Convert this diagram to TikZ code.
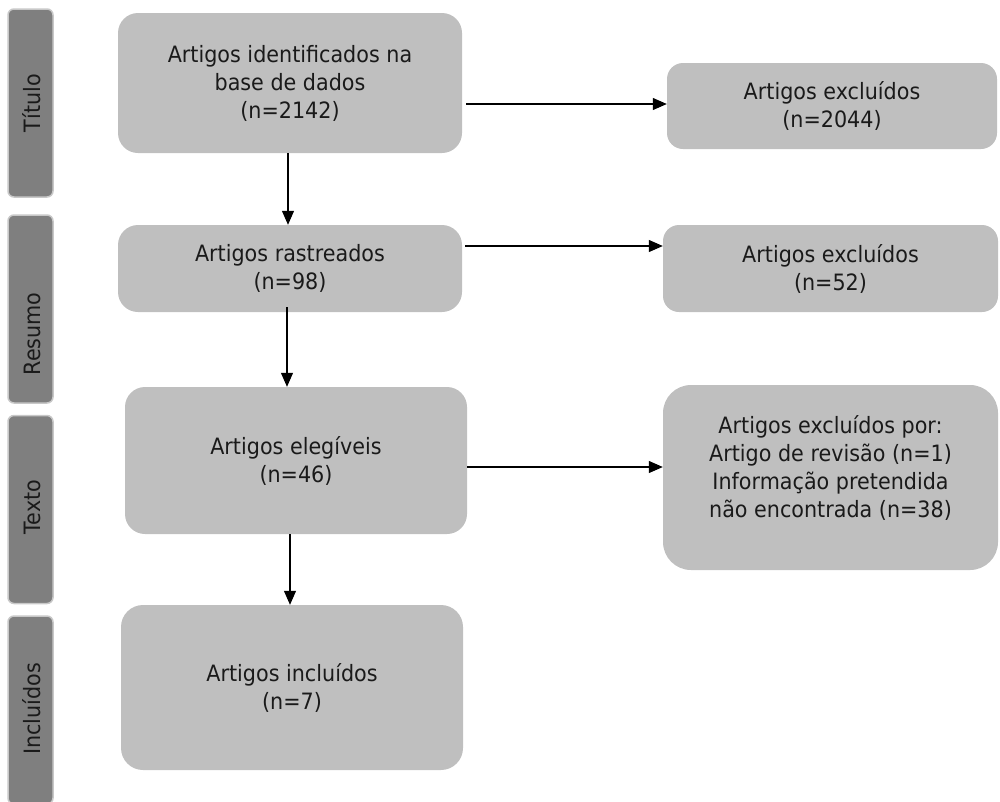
\documentclass[tikz,border=0pt]{standalone}
\usepackage{fontspec}
\setmainfont{DejaVu Sans}[FakeStretch=0.92]
\usetikzlibrary{arrows.meta,positioning,calc}
\definecolor{boxgray}{HTML}{BFBFBF}
\definecolor{bargray}{HTML}{7F7F7F}
\definecolor{barline}{HTML}{C8C8C8}
\definecolor{ink}{HTML}{1A1A1A}
\begin{document}
\begin{tikzpicture}[x=1pt,y=-1pt,
  box/.style={rectangle,rounded corners=20pt,fill=boxgray,draw=none,align=center,
    text=ink,font=\fontsize{22.5}{28}\selectfont,inner sep=0pt},
  bar/.style={rectangle,rounded corners=6pt,fill=bargray,draw=barline,line width=1.5pt,
    minimum width=45pt,minimum height=188pt,inner sep=0pt},
  barlabel/.style={rotate=90,text=ink,font=\fontsize{22.5}{28}\selectfont,inner sep=0pt},
  arr/.style={draw=black,line width=1.1pt,-{Triangle[length=14pt,width=12pt]}}
]
\useasboundingbox (0,0) rectangle (1000,801);
% side bars
\node[bar] (s1) at (30.5,103) {};
\node[bar] (s2) at (30.5,309) {};
\node[bar] (s3) at (30.5,509.5) {};
\node[bar] (s4) at (30.5,710) {};
\node[barlabel] (l1) at (32,103) {Título};
\node[barlabel] (l2) at (32,334) {Resumo};
\node[barlabel] (l3) at (32,507) {Texto};
\node[barlabel] (l4) at (32,709) {Incluídos};
% main boxes
\node[box,minimum width=344pt,minimum height=140pt] (b1) at (290,83)
  {Artigos identificados na\\base de dados\\(n=2142)};
\node[box,minimum width=344pt,minimum height=87pt] (b2) at (290,268.5)
  {Artigos rastreados\\(n=98)};
\node[box,minimum width=342pt,minimum height=147pt] (b3) at (296,460.5)
  {Artigos elegíveis\\(n=46)};
\node[box,minimum width=342pt,minimum height=165pt,rounded corners=22pt] (b4) at (292,687.5)
  {Artigos incluídos\\(n=7)};
% exclusion boxes
\node[box,minimum width=330pt,minimum height=86pt,rounded corners=16pt] (e1) at (832,106)
  {Artigos excluídos\\(n=2044)};
\node[box,minimum width=335pt,minimum height=87pt,rounded corners=16pt] (e2) at (830.5,268.5)
  {Artigos excluídos\\(n=52)};
\node[box,minimum width=335pt,minimum height=185pt,rounded corners=28pt] (e3) at (830.5,477.5)
  {Artigos excluídos por:\\Artigo de revisão (n=1)\\Informação pretendida\\não encontrada (n=38)\\[-6pt]\mbox{}};
% arrow levels
\coordinate (y1) at (0,104);
\coordinate (y2) at (0,246);
\coordinate (y3) at (0,467);
\coordinate (x1) at (288,0);
\coordinate (x2) at (287,0);
\coordinate (x3) at (290,0);
% vertical arrows
\draw[arr] (b1.south -| x1) -- (b2.north -| x1);
\draw[arr] ([yshift=5pt]b2.south -| x2) -- (b3.north -| x2);
\draw[arr] (b3.south -| x3) -- (b4.north -| x3);
% horizontal arrows
\draw[arr,shorten <=4pt] (b1.east |- y1) -- (e1.west |- y1);
\draw[arr,shorten <=3pt] (b2.east |- y2) -- (e2.west |- y2);
\draw[arr] (b3.east |- y3) -- (e3.west |- y3);
\end{tikzpicture}
\end{document}
